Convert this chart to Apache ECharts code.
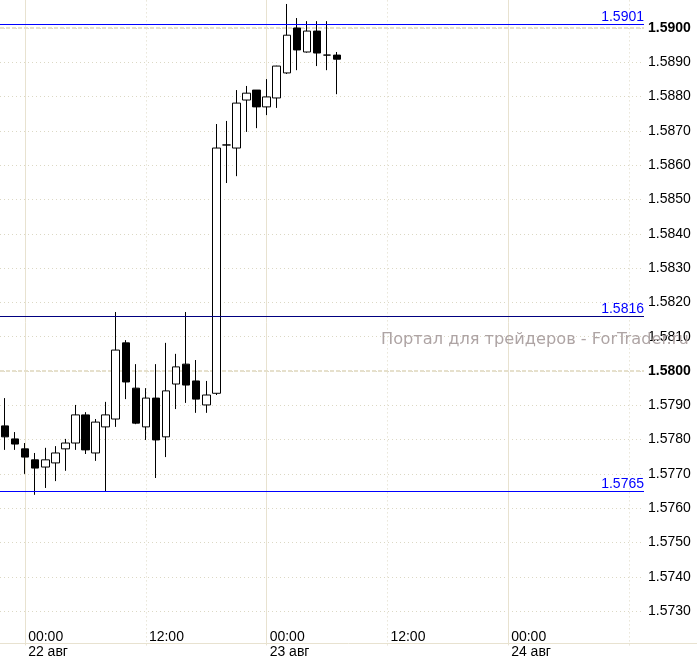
<!DOCTYPE html>
<html>
<head>
<meta charset="utf-8">
<script src="https://cdn.jsdelivr.net/npm/echarts@6/dist/echarts.min.js"></script>
<style>
html,body{margin:0;padding:0;background:#fff;}
#chart{width:697px;height:659px;}
</style>
</head>
<body>
<div id="chart"></div>
<script>
// Hourly categories (21 авг 22:00 .. 24 авг 13:00)
const categories = [
  '21 авг 22:00','21 авг 23:00',
  '22 авг 00:00','22 авг 01:00','22 авг 02:00','22 авг 03:00','22 авг 04:00','22 авг 05:00',
  '22 авг 06:00','22 авг 07:00','22 авг 08:00','22 авг 09:00','22 авг 10:00','22 авг 11:00',
  '22 авг 12:00','22 авг 13:00','22 авг 14:00','22 авг 15:00','22 авг 16:00','22 авг 17:00',
  '22 авг 18:00','22 авг 19:00','22 авг 20:00','22 авг 21:00','22 авг 22:00','22 авг 23:00',
  '23 авг 00:00','23 авг 01:00','23 авг 02:00','23 авг 03:00','23 авг 04:00','23 авг 05:00',
  '23 авг 06:00','23 авг 07:00','23 авг 08:00','23 авг 09:00','23 авг 10:00','23 авг 11:00',
  '23 авг 12:00','23 авг 13:00','23 авг 14:00','23 авг 15:00','23 авг 16:00','23 авг 17:00',
  '23 авг 18:00','23 авг 19:00','23 авг 20:00','23 авг 21:00','23 авг 22:00','23 авг 23:00',
  '24 авг 00:00','24 авг 01:00','24 авг 02:00','24 авг 03:00','24 авг 04:00','24 авг 05:00',
  '24 авг 06:00','24 авг 07:00','24 авг 08:00','24 авг 09:00','24 авг 10:00','24 авг 11:00',
  '24 авг 12:00','24 авг 13:00'
];

// OHLC values (first 34 hours)
const openV  = [1.57840,1.57802,1.57773,1.57741,1.57720,1.57732,1.57773,1.57790,1.57872,1.57761,
                1.57837,1.57860,1.58082,1.57950,1.57837,1.57921,1.57808,1.57962,1.58020,1.57971,
                1.57901,1.57935,1.58659,1.58650,1.58790,1.58819,1.58770,1.58796,1.58869,1.59000,
                1.58930,1.58991,1.58921,1.58921];
const closeV = [1.57808,1.57787,1.57749,1.57717,1.57741,1.57761,1.57790,1.57872,1.57770,1.57851,
                1.57872,1.58061,1.57968,1.57848,1.57921,1.57799,1.57942,1.58012,1.57959,1.57918,
                1.57930,1.58650,1.58659,1.58781,1.58810,1.58770,1.58799,1.58889,1.58979,1.58936,
                1.58991,1.58927,1.58921,1.58909];
const lowV   = [1.57770,1.57770,1.57700,1.57639,1.57659,1.57679,1.57709,1.57770,1.57758,1.57738,
                1.57648,1.57837,1.57918,1.57845,1.57799,1.57688,1.57749,1.57889,1.57907,1.57878,
                1.57878,1.57930,1.58548,1.58568,1.58697,1.58708,1.58746,1.58767,1.58866,1.58877,
                1.58928,1.58889,1.58877,1.58807];
const highV  = [1.57921,1.57822,1.57790,1.57761,1.57776,1.57781,1.57802,1.57901,1.57880,1.57860,
                1.57910,1.58172,1.58090,1.58020,1.57950,1.58020,1.58082,1.58050,1.58172,1.58032,
                1.57971,1.58720,1.58729,1.58819,1.58831,1.58819,1.58851,1.58890,1.59070,1.59029,
                1.59020,1.59020,1.59020,1.58930];

// Tick labels
const yTickLabels = ['1.5730','1.5740','1.5750','1.5760','1.5770','1.5780','1.5790','1.5800',
                     '1.5810','1.5820','1.5830','1.5840','1.5850','1.5860','1.5870','1.5880','1.5890','1.5900'];
const yBoldLabels = ['1.5800','1.5900'];
const xTickCategories = ['22 авг 00:00','22 авг 12:00','23 авг 00:00','23 авг 12:00','24 авг 00:00'];
const dayLines = ['22 авг 00:00','23 авг 00:00','24 авг 00:00'];
const halfDayLines = ['22 авг 12:00','23 авг 12:00','24 авг 12:00'];
const majorLevels = [1.58, 1.59];

// Horizontal levels
const levels = [1.5901, 1.5816, 1.5765];
const levelLabels = ['1.5901','1.5816','1.5765'];
const levelColors = ['#0000ff','#000080','#0000ff'];

const watermark = 'Портал для трейдеров - ForTrader.ru';

const ohlc = openV.map((o, i) => [o, closeV[i], lowV[i], highV[i]]);

const FONT = '"Liberation Sans", Arial, sans-serif';
const chart = echarts.init(document.getElementById('chart'), null, {renderer: 'canvas'});

const gridMarks = [];
dayLines.forEach(c => gridMarks.push({xAxis: c, lineStyle: {color: '#e8e2d0', width: 1, type: 'solid'}}));
halfDayLines.forEach(c => gridMarks.push({xAxis: c, lineStyle: {color: '#ddd8c4', width: 1, type: [1, 3]}}));
majorLevels.forEach(v => gridMarks.push({yAxis: v, lineStyle: {color: '#e6e0cc', width: 2, type: [4, 2]}}));

const levelSeries = levels.map((v, i) => ({
  type: 'line',
  name: 'level' + i,
  data: [],
  silent: true,
  z: 6,
  markLine: {
    z: 6,
    precision: 5,
    silent: true,
    symbol: ['none', 'none'],
    lineStyle: {color: levelColors[i], width: 1, type: 'solid'},
    label: {
      show: true,
      position: 'insideEndTop',
      distance: [0, 0],
      color: '#0000ff',
      fontFamily: FONT,
      fontSize: 14,
      formatter: levelLabels[i]
    },
    data: [{yAxis: v}]
  }
}));

chart.setOption({
  animation: false,
  backgroundColor: '#ffffff',
  grid: {left: 0, right: 53, top: 0, bottom: 13.6, containLabel: false},
  xAxis: {
    type: 'category',
    data: categories,
    boundaryGap: true,
    axisLine: {show: false},
    axisTick: {show: false},
    splitLine: {show: false},
    axisLabel: {
      interval: (idx, val) => xTickCategories.indexOf(val) >= 0,
      margin: -16,
      align: 'left',
      formatter: (val) => {
        const parts = val.split(' ');
        const time = parts[2];
        const date = parts[0] + ' ' + parts[1];
        return time === '00:00' ? '{t|' + time + '}\n{d|' + date + '}' : '{t|' + time + '}';
      },
      rich: {
        t: {fontFamily: FONT, fontSize: 14, color: '#000', lineHeight: 15, padding: [0, 0, 0, 3]},
        d: {fontFamily: FONT, fontSize: 14, color: '#000', lineHeight: 15, padding: [0, 0, 0, 3]}
      }
    }
  },
  yAxis: {
    type: 'value',
    position: 'right',
    min: 1.572,
    max: 1.590816,
    interval: 0.001,
    axisLine: {show: false},
    axisTick: {show: false},
    splitLine: {show: true, showMaxLine: false, showMinLine: false,
                lineStyle: {color: '#dcd8c4', width: 1, type: [1, 3]}},
    axisLabel: {
      margin: 4,
      showMinLabel: false,
      showMaxLabel: false,
      formatter: (v) => {
        const s = v.toFixed(4);
        if (yTickLabels.indexOf(s) < 0) return '';
        return yBoldLabels.indexOf(s) >= 0 ? '{b|' + s + '}' : '{n|' + s + '}';
      },
      rich: {
        n: {fontFamily: FONT, fontSize: 14, color: '#000'},
        b: {fontFamily: FONT, fontSize: 14, color: '#000', fontWeight: 'bold'}
      }
    }
  },
  graphic: [
    {type: 'line', z: 10, silent: true,
     shape: {x1: 0, y1: 643.5, x2: 697, y2: 643.5},
     style: {stroke: '#e8e2d0', lineWidth: 1}},
    {type: 'text', z: 20, silent: true, left: 381, top: 332,
     style: {text: watermark, fill: '#aea4a4', font: '16.2px "DejaVu Sans", Verdana, sans-serif'}}
  ],
  series: [
    {
      type: 'line',
      name: 'grid',
      data: [],
      silent: true,
      z: 1,
      markLine: {
        z: 1,
        precision: 5,
        silent: true,
        symbol: ['none', 'none'],
        label: {show: false},
        data: gridMarks
      }
    },
    {
      type: 'candlestick',
      name: 'price',
      data: ohlc,
      barWidth: 8,
      z: 3,
      itemStyle: {
        color: '#ffffff',
        color0: '#000000',
        borderColor: '#000000',
        borderColor0: '#000000',
        borderColorDoji: '#000000',
        borderWidth: 1
      }
    }
  ].concat(levelSeries)
});
</script>
</body>
</html>
